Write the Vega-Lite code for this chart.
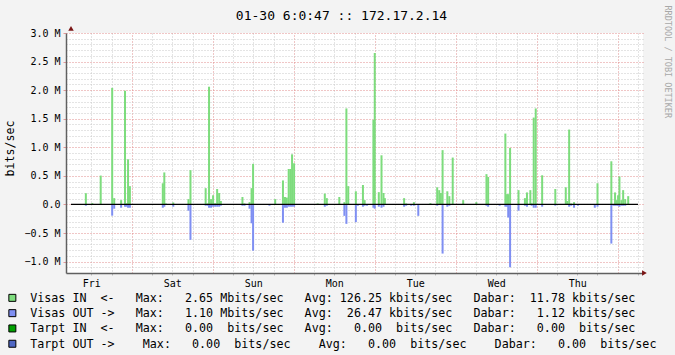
{
  "$schema": "https://vega.github.io/schema/vega-lite/v6.json",
  "width": 577,
  "height": 240,
  "autosize": {"type": "none"},
  "padding": {"left": 66, "top": 33, "right": 32, "bottom": 82},
  "background": "#f3f3f3",
  "title": {
    "text": "01-30 6:0:47 :: 172.17.2.14",
    "font": "DejaVu Sans Mono",
    "fontSize": 13,
    "fontWeight": "normal",
    "color": "#000000",
    "anchor": "middle",
    "dx": -13,
    "dy": 15,
    "baseline": "alphabetic",
    "offset": -13
  },
  "config": {
    "view": {"fill": "#ffffff", "stroke": null},
    "axis": {
      "labelFont": "DejaVu Sans Mono",
      "labelFontSize": 10,
      "labelColor": "#000000",
      "titleFont": "DejaVu Sans Mono",
      "titleFontWeight": "normal",
      "titleColor": "#000000",
      "labelOverlap": false,
      "labelFlush": false,
      "gridDash": [1, 2],
      "gridWidth": 1
    }
  },
  "layer": [
    {
      "data": {
        "values": [
          {"t":4.4,"in":197000,"out":-23000},
          {"t":6.3,"in":23000},
          {"t":8.8,"in":505000,"out":-10000},
          {"t":12.2,"in":2040000,"out":-197000},
          {"t":12.8,"in":110000,"out":-75000},
          {"t":14.85,"in":75000,"out":-58000},
          {"t":16.0,"in":1990000,"out":-40000},
          {"t":16.45,"in":20000,"out":-40000},
          {"t":16.9,"in":790000,"out":-58000},
          {"t":17.45,"in":320000,"out":-58000},
          {"t":27.2,"in":370000,"out":-58000},
          {"t":27.65,"in":560000,"out":-40000},
          {"t":28.1,"in":17000},
          {"t":30.3,"in":35000,"out":-40000},
          {"t":34.8,"in":93000,"out":-110000},
          {"t":35.4,"in":600000,"out":-620000},
          {"t":39.9,"in":285000,"out":-23000},
          {"t":40.5,"in":17000,"out":-23000},
          {"t":40.9,"in":2060000,"out":-58000},
          {"t":41.5,"in":93000,"out":-58000},
          {"t":42.1,"in":160000,"out":-40000},
          {"t":42.7,"in":20000,"out":-40000},
          {"t":43.3,"in":270000,"out":-40000},
          {"t":43.9,"in":200000,"out":-40000},
          {"t":44.4,"in":60000,"out":-23000},
          {"t":50.8,"in":130000,"out":-23000},
          {"t":51.4,"in":17000,"out":-23000},
          {"t":52.9,"in":40000,"out":-75000},
          {"t":53.5,"in":285000,"out":-330000},
          {"t":53.95,"in":710000,"out":-810000},
          {"t":58.8,"out":-23000},
          {"t":60.5,"in":93000},
          {"t":62.8,"in":420000,"out":-320000},
          {"t":63.4,"in":130000,"out":-58000},
          {"t":63.95,"in":120000,"out":-58000},
          {"t":64.5,"in":620000,"out":-40000},
          {"t":65.0,"in":620000,"out":-40000},
          {"t":65.5,"in":877000,"out":-40000},
          {"t":66.1,"in":720000,"out":-40000},
          {"t":73.1,"in":17000},
          {"t":75.2,"in":190000,"out":-40000},
          {"t":75.8,"in":110000,"out":-23000},
          {"t":79.5,"in":130000},
          {"t":81.0,"in":40000,"out":-200000},
          {"t":81.6,"in":1680000,"out":-340000},
          {"t":82.15,"in":320000},
          {"t":84.4,"in":230000,"out":-310000},
          {"t":85.0,"out":-23000},
          {"t":86.5,"in":340000,"out":-40000},
          {"t":87.0,"in":75000,"out":-23000},
          {"t":87.7,"out":-23000},
          {"t":89.6,"in":1480000,"out":-58000},
          {"t":90.0,"in":2650000,"out":-75000},
          {"t":91.2,"in":215000,"out":-40000},
          {"t":92.0,"in":860000,"out":-58000},
          {"t":92.6,"in":200000,"out":-40000},
          {"t":93.0,"in":110000},
          {"t":98.7,"in":110000,"out":-40000},
          {"t":99.3,"in":17000,"out":-23000},
          {"t":100.8,"out":-23000},
          {"t":101.6,"in":40000,"out":-23000},
          {"t":102.9,"out":-200000},
          {"t":105.6,"out":-10000},
          {"t":106.5,"in":23000},
          {"t":108.5,"in":300000,"out":-23000},
          {"t":109.1,"in":250000},
          {"t":109.6,"in":200000},
          {"t":110.1,"in":950000,"out":-860000},
          {"t":111.5,"in":230000,"out":-40000},
          {"t":112.1,"in":145000,"out":-23000},
          {"t":113.1,"in":820000,"out":-10000},
          {"t":116.2,"in":75000},
          {"t":120.1,"in":40000},
          {"t":123.1,"in":530000,"out":-23000},
          {"t":123.6,"in":480000,"out":-40000},
          {"t":127.0,"out":-23000},
          {"t":128.7,"in":1240000,"out":-40000},
          {"t":129.2,"in":180000,"out":-40000},
          {"t":129.55,"in":180000,"out":-230000},
          {"t":130.1,"in":990000,"out":-1100000},
          {"t":132.6,"in":250000,"out":-110000},
          {"t":134.5,"in":110000,"out":-23000},
          {"t":135.1,"in":210000,"out":-40000},
          {"t":136.1,"in":250000},
          {"t":136.5,"in":20000,"out":-23000},
          {"t":137.1,"in":1520000,"out":-58000},
          {"t":137.7,"in":1680000,"out":-58000},
          {"t":139.6,"in":510000,"out":-40000},
          {"t":143.5,"in":270000,"out":-23000},
          {"t":146.6,"in":300000},
          {"t":147.0,"in":60000},
          {"t":147.6,"in":1310000,"out":-40000},
          {"t":148.2,"in":17000,"out":-23000},
          {"t":149.05,"in":40000,"out":-58000},
          {"t":150.2,"out":-23000},
          {"t":155.2,"out":-58000},
          {"t":156.0,"in":370000,"out":-40000},
          {"t":160.1,"in":755000,"out":-685000},
          {"t":160.7,"out":-23000},
          {"t":161.2,"in":210000,"out":-23000},
          {"t":161.7,"in":75000,"out":-23000},
          {"t":162.1,"in":160000,"out":-23000},
          {"t":162.5,"in":490000,"out":-40000},
          {"t":163.1,"in":75000,"out":-23000},
          {"t":163.6,"in":250000,"out":-23000},
          {"t":164.2,"in":93000,"out":-23000},
          {"t":165.1,"in":145000}
        ]
      },
      "transform": [{"fold": ["in", "out"], "as": ["series", "v"]}],
      "mark": {"type": "bar", "width": 2, "orient": "vertical"},
      "encoding": {
        "x": {
          "field": "t", "type": "quantitative",
          "scale": {"domain": [0, 168], "nice": false, "zero": false},
          "axis": {
            "orient": "bottom", "title": null,
            "values": [6, 12, 24, 30, 36, 48, 54, 60, 72, 78, 84, 96, 102, 108, 120, 126, 132, 144, 150, 156, 168],
            "labelExpr": "datum.value == 6 ? 'Fri' : datum.value == 30 ? 'Sat' : datum.value == 54 ? 'Sun' : datum.value == 78 ? 'Mon' : datum.value == 102 ? 'Tue' : datum.value == 126 ? 'Wed' : datum.value == 150 ? 'Thu' : ''",
            "grid": true, "gridColor": "#c8c8c8",
            "ticks": true, "tickColor": "#bbbbbb", "tickSize": 2,
            "labelPadding": 3,
            "domain": true, "domainColor": "#606060", "domainWidth": 1.5
          }
        },
        "y": {
          "field": "v", "type": "quantitative", "stack": null,
          "scale": {"domain": [-1200000, 3000000], "nice": false, "zero": false},
          "axis": {
            "orient": "left",
            "values": [-1000000, -500000, 0, 500000, 1000000, 1500000, 2000000, 2500000, 3000000],
            "labelExpr": "datum.value == 0 ? '0.0' : format(datum.value / 1000000, '.1f') + ' M'",
            "grid": true, "gridColor": "#e08c8c",
            "ticks": true, "tickColor": "#e29a9a", "tickSize": 3,
            "labelPadding": 3,
            "domain": true, "domainColor": "#606060", "domainWidth": 1.5,
            "title": "bits/sec", "titleFontSize": 11.6,
            "titleAngle": 270, "titleAlign": "center", "titleBaseline": "middle",
            "titleX": -56, "titleY": 115
          }
        },
        "color": {
          "field": "series", "type": "nominal",
          "scale": {"domain": ["in", "out", "tin", "tout"], "range": ["#7ddc7d", "#7f8ff2", "#00a000", "#4f67c4"]},
          "legend": {
            "orient": "none", "legendX": -59.5, "legendY": 259,
            "direction": "vertical", "title": null, "padding": 0,
            "values": ["in", "out", "tin", "tout"],
            "symbolType": "square", "symbolSize": 49,
            "symbolStrokeColor": "#000000", "symbolStrokeWidth": 1, "symbolOpacity": 1,
            "labelFont": "DejaVu Sans Mono", "labelFontSize": 11.7, "labelColor": "#000000",
            "labelOffset": 12, "labelLimit": 700, "rowPadding": 2.3,
            "labelExpr": "datum.label == 'in' ? 'Visas\u00a0IN\u00a0\u00a0<-\u00a0\u00a0\u00a0Max:\u00a0\u00a0\u00a02.65\u00a0Mbits/sec\u00a0\u00a0\u00a0Avg:\u00a0126.25\u00a0kbits/sec\u00a0\u00a0\u00a0Dabar:\u00a0\u00a011.78\u00a0kbits/sec' : datum.label == 'out' ? 'Visas\u00a0OUT\u00a0->\u00a0\u00a0\u00a0Max:\u00a0\u00a0\u00a01.10\u00a0Mbits/sec\u00a0\u00a0\u00a0Avg:\u00a0\u00a026.47\u00a0kbits/sec\u00a0\u00a0\u00a0Dabar:\u00a0\u00a0\u00a01.12\u00a0kbits/sec' : datum.label == 'tin' ? 'Tarpt\u00a0IN\u00a0\u00a0<-\u00a0\u00a0\u00a0Max:\u00a0\u00a0\u00a00.00\u00a0\u00a0bits/sec\u00a0\u00a0\u00a0Avg:\u00a0\u00a0\u00a00.00\u00a0\u00a0bits/sec\u00a0\u00a0\u00a0Dabar:\u00a0\u00a0\u00a00.00\u00a0\u00a0bits/sec' : 'Tarpt\u00a0OUT\u00a0->\u00a0\u00a0\u00a0\u00a0Max:\u00a0\u00a0\u00a00.00\u00a0\u00a0bits/sec\u00a0\u00a0\u00a0\u00a0Avg:\u00a0\u00a0\u00a00.00\u00a0\u00a0bits/sec\u00a0\u00a0\u00a0\u00a0Dabar:\u00a0\u00a0\u00a00.00\u00a0\u00a0bits/sec'"
          }
        }
      }
    },
    {
      "data": {"values": [{"a": 0, "b": 168, "z": 0}]},
      "mark": {"type": "rule", "color": "#000000", "strokeWidth": 1.2},
      "encoding": {
        "x": {
          "field": "a", "type": "quantitative",
          "scale": {"domain": [0, 168], "nice": false, "zero": false},
          "axis": {
            "orient": "top", "title": null,
            "values": [18, 42, 66, 90, 114, 138, 162],
            "labels": false, "ticks": false, "domain": false,
            "grid": true, "gridColor": "#e08c8c"
          }
        },
        "x2": {"field": "b"},
        "y": {
          "field": "z", "type": "quantitative",
          "scale": {"domain": [-1200000, 3000000], "nice": false, "zero": false},
          "axis": {
            "orient": "right",
            "values": [-1100000, -900000, -800000, -700000, -600000, -400000, -300000, -200000, -100000, 100000, 200000, 300000, 400000, 600000, 700000, 800000, 900000, 1100000, 1200000, 1300000, 1400000, 1600000, 1700000, 1800000, 1900000, 2100000, 2200000, 2300000, 2400000, 2600000, 2700000, 2800000, 2900000],
            "labels": false, "ticks": false, "domain": false,
            "grid": true, "gridColor": "#c8c8c8",
            "title": "RRDTOOL / TOBI OETIKER",
            "titleFontSize": 8.5, "titleColor": "#a8a8a8",
            "titleAngle": 90, "titleAlign": "left", "titleBaseline": "middle",
            "titleX": 24, "titleY": -28
          }
        }
      }
    },
    {
      "data": {"values": [{"t": 0, "v": 3080000, "d": "up"}, {"t": 169.9, "v": -1200000, "d": "right"}]},
      "mark": {"type": "point", "filled": true, "opacity": 1, "size": 30, "color": "#7a1414"},
      "encoding": {
        "x": {"field": "t", "type": "quantitative", "axis": null},
        "y": {"field": "v", "type": "quantitative", "axis": null},
        "shape": {
          "field": "d", "type": "nominal",
          "scale": {"domain": ["up", "right"], "range": ["triangle-up", "triangle-right"]},
          "legend": null
        }
      }
    }
  ],
  "resolve": {"axis": {"x": "independent", "y": "independent"}}
}
